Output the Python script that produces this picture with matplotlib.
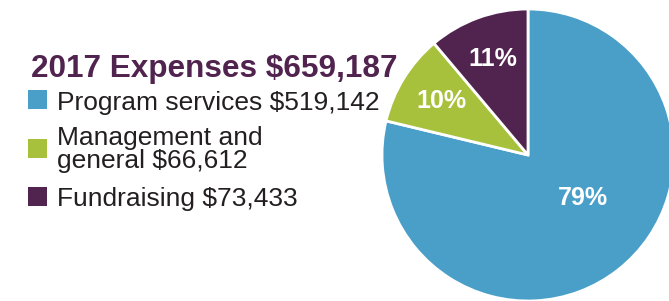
import matplotlib
matplotlib.use("Agg")
import matplotlib.pyplot as plt
import numpy as np

plt.rcParams['font.family'] = ['Liberation Sans', 'DejaVu Sans']

categories = ["Program services", "Management and\ngeneral", "Fundraising"]
values = [519142, 66612, 73433]
total = 659187
year = "2017"
colors = ["#4A9FC9", "#A8C13C", "#51234F"]
title_color = "#51234F"
text_color = "#231F20"

W, H = 669, 301
fig = plt.figure(figsize=(W / 100, H / 100), dpi=100)
ax = fig.add_axes([0, 0, 1, 1])

cx, cy, r = 528, H - 155, 146
wedges, texts, autotexts = ax.pie(
    values, colors=colors, startangle=90, counterclock=False,
    center=(cx, cy), radius=r, autopct='%.0f%%', pctdistance=0.70,
    wedgeprops=dict(edgecolor="white", linewidth=2),
    textprops=dict(color="white", fontsize=18, fontweight="bold"))
# reposition the big-slice label
ang = np.deg2rad(-38)
autotexts[0].set_position((cx + 0.48 * r * np.cos(ang), cy + 0.48 * r * np.sin(ang)))
for t in autotexts:
    t.set_va("center")
    t.set_ha("center")

ax.set_xlim(0, W)
ax.set_ylim(0, H)
ax.set_aspect("equal")
ax.axis("off")

ax.text(31, H - 76.7, f"{year} Expenses ${total:,}", fontsize=22.7, fontweight="bold",
        color=title_color, va="baseline", ha="left")

baselines = [110, 168.3, 205.7]
square_tops = [90, 139, 187]
for i, (cat, v, col) in enumerate(zip(categories, values, colors)):
    ax.add_patch(plt.Rectangle((28, H - square_tops[i] - 19), 19, 19, color=col, lw=0))
    ax.text(57, H - baselines[i], f"{cat} ${v:,}", fontsize=19, color=text_color,
            va="baseline", ha="left", linespacing=0.97)

fig.savefig("out.png", dpi=100)
